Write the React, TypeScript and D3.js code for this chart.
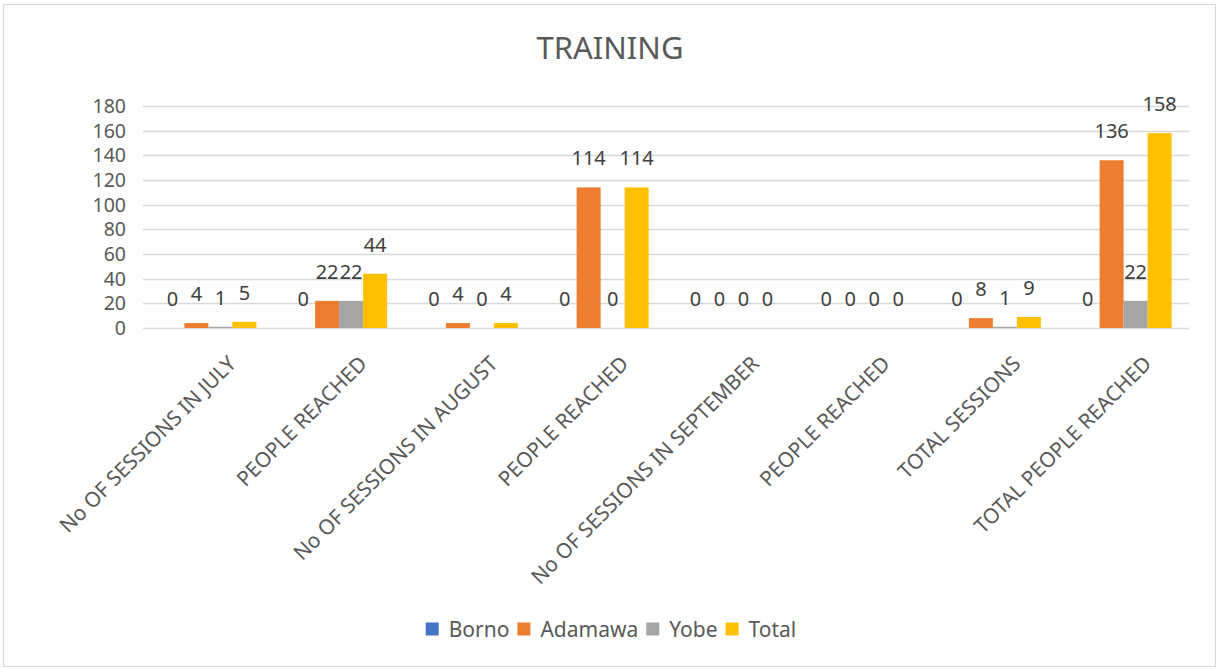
import React, { useEffect, useRef } from "react";
import * as d3 from "d3";

const categories = [
  "No OF SESSIONS IN JULY",
  "PEOPLE REACHED",
  "No OF SESSIONS IN AUGUST",
  "PEOPLE REACHED",
  "No OF SESSIONS IN SEPTEMBER",
  "PEOPLE REACHED",
  "TOTAL SESSIONS",
  "TOTAL PEOPLE REACHED",
];
const seriesNames = ["Borno", "Adamawa", "Yobe", "Total"];
const borno = [0, 0, 0, 0, 0, 0, 0, 0];
const adamawa = [4, 22, 4, 114, 0, 0, 8, 136];
const yobe = [1, 22, 0, 0, 0, 0, 1, 22];
const total = [5, 44, 4, 114, 0, 0, 9, 158];
const yTicks = [0, 20, 40, 60, 80, 100, 120, 140, 160, 180];
const colors = ["#4472C4", "#ED7D31", "#A5A5A5", "#FFC000"];

const W = 1218;
const H = 669;
const FONT = "'Noto Sans', 'Open Sans', sans-serif";
const TEXT = "#595959";

export default function App() {
  const ref = useRef<SVGSVGElement | null>(null);

  useEffect(() => {
    const svg = d3.select(ref.current);
    svg.selectAll("*").remove();
    const values = [borno, adamawa, yobe, total];

    svg
      .append("rect")
      .attr("x", 3.5)
      .attr("y", 4.5)
      .attr("width", 1212)
      .attr("height", 662)
      .attr("fill", "#fff")
      .attr("stroke", "#d9d9d9");

    svg
      .append("text")
      .attr("x", 610)
      .attr("y", 59)
      .attr("text-anchor", "middle")
      .attr("font-family", FONT)
      .attr("font-size", 31)
      .attr("fill", TEXT)
      .text("TRAINING");

    const x0 = d3
      .scaleBand<number>()
      .domain(d3.range(categories.length))
      .range([143, 1189])
      .padding(0);
    const x1 = d3
      .scaleBand<number>()
      .domain(d3.range(seriesNames.length))
      .range([0, x0.bandwidth()])
      .paddingInner(0)
      .paddingOuter(0.724);
    const y = d3.scaleLinear().domain([0, 180]).range([328, 106]);

    const grid = svg.append("g");
    yTicks.forEach((t) => {
      grid
        .append("line")
        .attr("x1", 143)
        .attr("x2", 1189)
        .attr("y1", Math.round(y(t)) + 0.5)
        .attr("y2", Math.round(y(t)) + 0.5)
        .attr("stroke", "#d9d9d9")
        .attr("stroke-width", 1.5);
      grid
        .append("text")
        .attr("x", 126)
        .attr("y", y(t))
        .attr("dy", "0.36em")
        .attr("text-anchor", "end")
        .attr("font-family", FONT)
        .attr("font-size", 19.5)
        .attr("fill", TEXT)
        .text(String(t));
    });

    const bars = svg.append("g");
    const labels = svg.append("g");
    categories.forEach((_, ci) => {
      seriesNames.forEach((_, si) => {
        const v = values[si][ci];
        const bx = (x0(ci) as number) + (x1(si) as number);
        bars
          .append("rect")
          .attr("x", bx)
          .attr("y", y(v))
          .attr("width", x1.bandwidth())
          .attr("height", y(0) - y(v))
          .attr("fill", colors[si]);
        labels
          .append("text")
          .attr("x", bx + x1.bandwidth() / 2)
          .attr("y", y(v) - 22)
          .attr("text-anchor", "middle")
          .attr("font-family", FONT)
          .attr("font-size", 20)
          .attr("fill", "#404040")
          .text(String(v));
      });
    });

    const xl = svg.append("g");
    categories.forEach((c, ci) => {
      const cx = (x0(ci) as number) + x0.bandwidth() / 2 + 29;
      const cy = 365;
      xl.append("text")
        .attr("transform", `translate(${cx},${cy}) rotate(-45)`)
        .attr("text-anchor", "end")
        .attr("font-family", FONT)
        .attr("font-size", 20.8)
        .attr("fill", TEXT)
        .text(c);
    });

    // legend
    const lg = svg.append("g");
    const items: { g: any; w: number }[] = [];
    seriesNames.forEach((n, i) => {
      const g = lg.append("g");
      g.append("rect")
        .attr("x", 0)
        .attr("y", -6.5)
        .attr("width", 13)
        .attr("height", 13)
        .attr("fill", colors[i]);
      const t = g
        .append("text")
        .attr("x", 23)
        .attr("y", 0)
        .attr("dy", "0.36em")
        .attr("font-family", FONT)
        .attr("font-size", 21)
        .attr("fill", TEXT)
        .text(n);
      const tw = (t.node() as SVGTextElement).getComputedTextLength();
      items.push({ g, w: 23 + tw });
    });
    const gap = 8;
    const totalW = d3.sum(items, (d) => d.w) + gap * (items.length - 1);
    let cur = 611 - totalW / 2;
    items.forEach((it) => {
      it.g.attr("transform", `translate(${cur},629)`);
      cur += it.w + gap;
    });
  }, []);

  return (
    <svg
      ref={ref}
      width={W}
      height={H}
      style={{ position: "absolute", left: 0, top: 0, background: "#fff" }}
    />
  );
}
